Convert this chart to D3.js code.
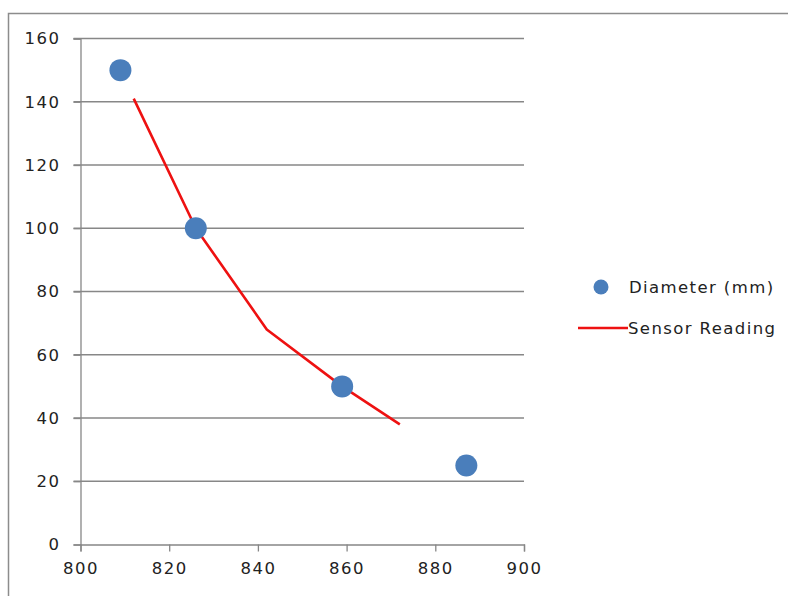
<!DOCTYPE html>
<html>
<head>
<meta charset="utf-8">
<script src="https://cdn.jsdelivr.net/npm/d3@7"></script>
<style>
  body { margin: 0; background: #fff; }
  text { font-family: "DejaVu Sans", sans-serif; fill: #222; }
</style>
</head>
<body>
<svg id="chart" width="788" height="596"></svg>
<script>
// diameter samples (mm) vs x
const diamX = [809, 826, 859, 887];
const diamY = [150, 100, 50, 25];

// sensor reading curve
const sensorX = [812, 826, 842, 859, 872];
const sensorY = [141, 100, 68, 50, 38];

const xTicks = [800, 820, 840, 860, 880, 900];
const yTicks = [0, 20, 40, 60, 80, 100, 120, 140, 160];

const svg = d3.select('#chart');

// chart area border (only left/top visible in frame)
svg.append('rect')
  .attr('x', 8.5).attr('y', 13.5)
  .attr('width', 800).attr('height', 600)
  .attr('fill', 'none')
  .attr('stroke', '#8c8c8c')
  .attr('stroke-width', 1.5);

const x = d3.scaleLinear().domain([800, 900]).range([80.5, 524]);
const y = d3.scaleLinear().domain([0, 160]).range([544.5, 38.5]);

// gridlines
svg.append('g')
  .selectAll('line')
  .data(yTicks.filter(d => d > 0))
  .enter()
  .append('line')
  .attr('x1', x(800) - 7).attr('x2', x(900))
  .attr('y1', d => y(d)).attr('y2', d => y(d))
  .attr('stroke', '#878787')
  .attr('stroke-width', 1.3);

// y axis
const yAxis = svg.append('g')
  .attr('transform', 'translate(' + x(800) + ',0)')
  .call(d3.axisLeft(y).tickValues(yTicks).tickSize(7).tickPadding(13));

// x axis
const xAxis = svg.append('g')
  .attr('transform', 'translate(0,' + y(0) + ')')
  .call(d3.axisBottom(x).tickValues(xTicks).tickSize(7).tickPadding(11));

[yAxis, xAxis].forEach(function (g) {
  g.select('.domain').attr('stroke', '#878787').attr('stroke-width', 1.3);
  g.selectAll('.tick line').attr('stroke', '#878787').attr('stroke-width', 1.3);
  g.selectAll('.tick text')
    .style('font-family', '"DejaVu Sans", sans-serif')
    .style('font-size', '16.5px')
    .style('letter-spacing', '1.5px')
    .attr('fill', '#222');
});

// sensor line
const line = d3.line()
  .x((d, i) => x(sensorX[i]))
  .y((d, i) => y(sensorY[i]));

svg.append('path')
  .datum(sensorX)
  .attr('d', line)
  .attr('fill', 'none')
  .attr('stroke', '#ee1111')
  .attr('stroke-width', 2.6)
  .attr('stroke-linejoin', 'round');

// diameter markers
svg.append('g')
  .selectAll('circle')
  .data(diamX)
  .enter()
  .append('circle')
  .attr('cx', d => x(d))
  .attr('cy', (d, i) => y(diamY[i]))
  .attr('r', 11)
  .attr('fill', '#4a7ebb');

// legend
const legend = svg.append('g');
legend.append('circle')
  .attr('cx', 601).attr('cy', 287).attr('r', 7.5)
  .attr('fill', '#4a7ebb');
legend.append('line')
  .attr('x1', 578).attr('x2', 628)
  .attr('y1', 328).attr('y2', 328)
  .attr('stroke', '#ee1111').attr('stroke-width', 2.6);
legend.selectAll('text')
  .data(['Diameter (mm)', 'Sensor Reading'])
  .enter()
  .append('text')
  .attr('x', (d, i) => i === 0 ? 629 : 628)
  .attr('y', (d, i) => i === 0 ? 293 : 334)
  .style('font-size', '16.5px')
  .style('letter-spacing', '1.4px')
  .text(d => d);
</script>
</body>
</html>
